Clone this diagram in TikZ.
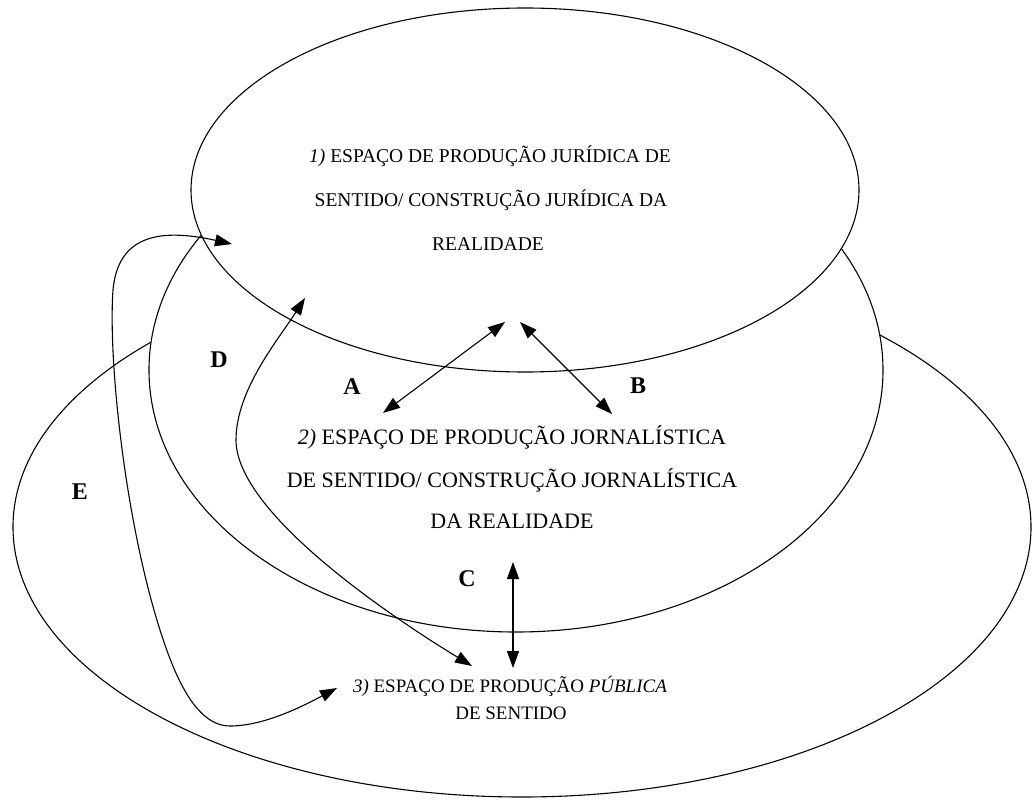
\documentclass[tikz,border=0pt]{standalone}
\usepackage{fontspec}
\setmainfont{Liberation Serif}
\usetikzlibrary{arrows.meta}
\begin{document}
\begin{tikzpicture}[x=1pt,y=-1pt,
  oval/.style={draw, fill=white, line width=1.1pt},
  tipA/.tip={Triangle[length=17pt,width=12pt]},
  link/.style={line width=1.1pt, tipA-tipA},
  tag/.style={font=\fontsize{24}{24}\selectfont\bfseries, inner sep=0pt},
  txa/.style={font=\fontsize{19.5}{19.5}\selectfont, inner sep=0pt, anchor=base},
  txb/.style={font=\fontsize{22}{22}\selectfont, inner sep=0pt, anchor=base},
  txc/.style={font=\fontsize{19}{19}\selectfont, inner sep=0pt, anchor=base}]
\useasboundingbox (0,0) rectangle (1033,805);
% ellipses (bottom first)
\draw[oval] (522,527) ellipse [x radius=509pt, y radius=270pt];
\draw[oval] (516,370) ellipse [x radius=367pt, y radius=262pt];
\draw[oval] (525,190) ellipse [x radius=334pt, y radius=182pt];
% texts
\node[txa] (t1a) at (490,163) {\textit{1)} ESPAÇO DE PRODUÇÃO JURÍDICA DE};
\node[txa] (t1b) at (491,207) {SENTIDO/ CONSTRUÇÃO JURÍDICA DA};
\node[txa] (t1c) at (488,250) {REALIDADE};
\node[txb] (t2a) at (512,444) {\textit{2)} ESPAÇO DE PRODUÇÃO JORNALÍSTICA};
\node[txb] (t2b) at (512,487) {DE SENTIDO/ CONSTRUÇÃO JORNALÍSTICA};
\node[txb] (t2c) at (512,528) {DA REALIDADE};
\node[txc] (t3a) at (510,692) {\textit{3)} ESPAÇO DE PRODUÇÃO \textit{PÚBLICA}};
\node[txc] (t3b) at (511,719) {DE SENTIDO};
% labels
\node[tag] (lA) at (352,387) {A};
\node[tag] (lB) at (638,386) {B};
\node[tag] (lC) at (467,579) {C};
\node[tag] (lD) at (219,360) {D};
\node[tag] (lE) at (80,492) {E};
% arrow end points
\coordinate (a1) at (383,413);
\coordinate (a2) at (505,322);
\coordinate (b1) at (520,322);
\coordinate (b2) at (612,414);
\coordinate (c1) at (513,562);
\coordinate (c2) at (513,668);
\coordinate (d1) at (305,298);
\coordinate (d2) at (472,666);
\coordinate (e1) at (232,244);
\coordinate (e2) at (337,688);
% arrows
\draw[link] (a1) -- (a2);
\draw[link] (b1) -- (b2);
\draw[link] (c1) -- (c2);
\draw[link] (d1) .. controls (278,340) and (236,390) .. (236,440)
                 .. controls (236,510) and (380,610) .. (d2);
\draw[link] (e1) .. controls (160,228) and (118,235) .. (113,290)
                 .. controls (108,360) and (125,520) .. (160,630)
                 .. controls (174,674) and (195,726) .. (230,726)
                 .. controls (265,726) and (305,705) .. (e2);
\end{tikzpicture}
\end{document}
